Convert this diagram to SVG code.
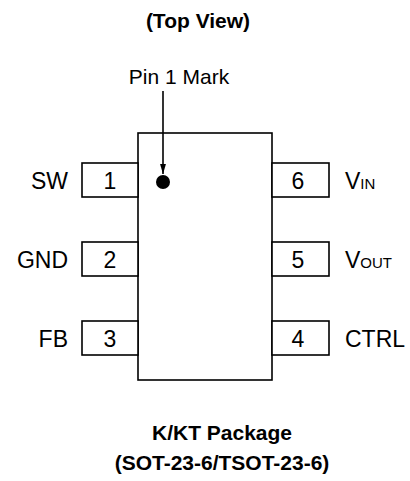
<svg xmlns="http://www.w3.org/2000/svg" width="410" height="481" viewBox="0 0 410 481">
<style>
.b{fill:#fff;stroke:#000;stroke-width:1.6}
.t{font-family:"Liberation Sans",Arial,sans-serif;font-size:21px;fill:#000}
.p{font-family:"Liberation Sans",Arial,sans-serif;font-size:23px;fill:#000}
.h{font-family:"Liberation Sans",Arial,sans-serif;font-size:21px;font-weight:bold;fill:#000}
.c{text-anchor:middle}
.e{text-anchor:end}
</style>
<defs>
<marker id="ah" markerWidth="10" markerHeight="17" refX="17" refY="5" orient="auto" markerUnits="userSpaceOnUse" viewBox="0 0 17 10">
<path d="M0,0 L17,5 L0,10 Z" fill="#000"/>
</marker>
</defs>
<rect width="410" height="481" fill="#fff"/>
<text class="h c" x="198" y="28">(Top View)</text>
<text class="t c" x="179" y="84">Pin 1 Mark</text>
<g id="body"><rect class="b" x="138" y="133" width="134" height="247"/></g>
<g id="pin1"><rect class="b" x="82" y="163" width="56" height="34"/><text class="p c" x="110" y="189">1</text><text class="p e" x="68" y="189">SW</text></g>
<g id="pin2"><rect class="b" x="82" y="242" width="56" height="34"/><text class="p c" x="110" y="268">2</text><text class="p e" x="68" y="268">GND</text></g>
<g id="pin3"><rect class="b" x="82" y="321" width="56" height="34"/><text class="p c" x="110" y="347">3</text><text class="p e" x="68" y="347">FB</text></g>
<g id="pin6"><rect class="b" x="272" y="163" width="57" height="34"/><text class="p c" x="298" y="189">6</text><text class="p" x="345" y="189">V<tspan font-size="15">IN</tspan></text></g>
<g id="pin5"><rect class="b" x="272" y="242" width="57" height="34"/><text class="p c" x="298" y="268">5</text><text class="p" x="345" y="268">V<tspan font-size="15">OUT</tspan></text></g>
<g id="pin4"><rect class="b" x="272" y="321" width="57" height="34"/><text class="p c" x="298" y="347">4</text><text class="p" x="345" y="347">CTRL</text></g>
<g id="dot"><circle cx="163" cy="182" r="7" fill="#000"/></g>
<g id="connectors"><line x1="163" y1="91" x2="163" y2="174" stroke="#000" stroke-width="1.6" marker-end="url(#ah)"/></g>
<text class="h c" x="222" y="440">K/KT Package</text>
<text class="h c" x="222" y="470">(SOT-23-6/TSOT-23-6)</text>
</svg>
